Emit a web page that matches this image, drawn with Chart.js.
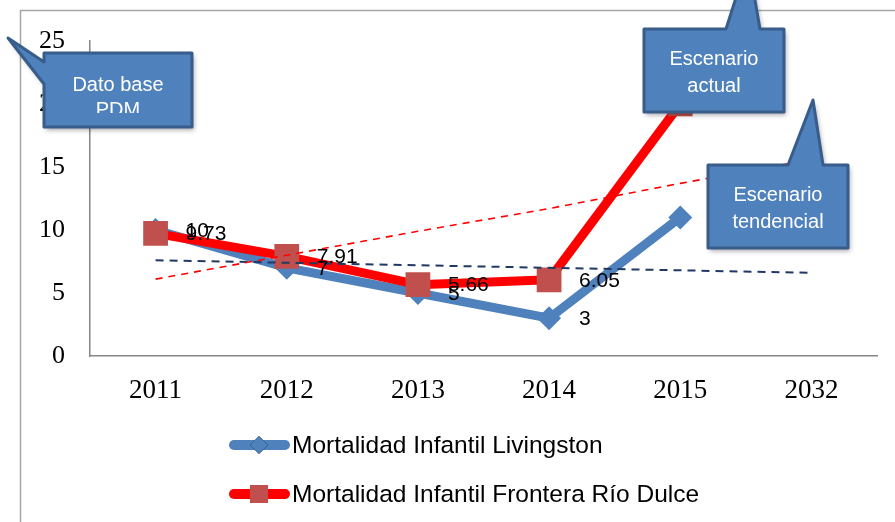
<!DOCTYPE html>
<html><head><meta charset="utf-8">
<script src="https://cdn.jsdelivr.net/npm/chart.js@4/dist/chart.umd.min.js"></script>
<style>html,body{margin:0;padding:0;background:#fff;overflow:hidden}canvas{display:block}</style>
</head><body>
<canvas id="c" width="895" height="522"></canvas>
<script>
// ---- data ----
const categories = ['2011', '2012', '2013', '2014', '2015', '2032'];
const livingston = [10, 7, 5, 3, 11, null];
const frontera = [9.73, 7.91, 5.66, 6.05, 20, null];
const trendLivingston = [7.6, 7.4, 7.2, 7.0, 6.8, 6.6];
const trendFrontera = [6.1, 8.0, 9.9, 11.7, 13.7, 15.6];
const yTicks = [0, 5, 10, 15, 20, 25];
const seriesNames = ['Mortalidad Infantil Livingston', 'Mortalidad Infantil Frontera Río Dulce'];
const calloutTexts = [['Dato base', 'PDM'], ['Escenario', 'actual'], ['Escenario', 'tendencial']];

const BLUE = '#4F81BD', RED = '#FF0000', SQ = '#C0504D';

function callout(ctx, pts, box, lines, lineGap, textTop, clipBottom) {
  ctx.save();
  ctx.beginPath();
  pts.forEach((p, i) => i ? ctx.lineTo(p[0], p[1]) : ctx.moveTo(p[0], p[1]));
  ctx.closePath();
  ctx.shadowColor = 'rgba(0,0,0,0.35)';
  ctx.shadowBlur = 5; ctx.shadowOffsetX = 2; ctx.shadowOffsetY = 3;
  ctx.fillStyle = BLUE;
  ctx.fill();
  ctx.shadowColor = 'transparent';
  ctx.lineJoin = 'round';
  ctx.lineWidth = 3;
  ctx.strokeStyle = '#385D8A';
  ctx.stroke();
  ctx.beginPath();
  ctx.rect(box[0], box[1], box[2] - box[0], clipBottom - box[1]);
  ctx.clip();
  ctx.fillStyle = '#fff';
  ctx.font = '20px "Liberation Sans", Arial, sans-serif';
  ctx.textAlign = 'center';
  ctx.textBaseline = 'alphabetic';
  const cx = (box[0] + box[2]) / 2;
  lines.forEach((t, i) => ctx.fillText(t, cx, textTop + i * lineGap));
  ctx.restore();
}

const overlay = {
  id: 'overlay',
  beforeDraw(chart) {
    const ctx = chart.ctx;
    ctx.save();
    ctx.fillStyle = '#fff';
    ctx.fillRect(0, 0, chart.width, chart.height);
    ctx.strokeStyle = '#A6A6A6';
    ctx.lineWidth = 1.5;
    ctx.beginPath();
    ctx.moveTo(20.5, 530); ctx.lineTo(20.5, 10.5); ctx.lineTo(900, 10.5);
    ctx.stroke();
    ctx.restore();
  },
  afterDraw(chart) {
    const ctx = chart.ctx;
    // data labels
    ctx.save();
    ctx.font = '21px "Liberation Sans", Arial, sans-serif';
    ctx.fillStyle = '#000';
    ctx.textAlign = 'left';
    ctx.textBaseline = 'middle';
    [[0, livingston], [1, frontera]].forEach(([di, arr]) => {
      const meta = chart.getDatasetMeta(di);
      arr.forEach((v, j) => {
        if (v === null) return;
        const el = meta.data[j];
        ctx.fillText(String(v), el.x + 30, el.y + 1);
      });
    });
    ctx.restore();

    // legend
    ctx.save();
    const rows = [[445, BLUE, 'rectRot', 9, BLUE], [494, RED, 'rect', 12.7, SQ]];
    rows.forEach(([y, lc, ps, r, pc], i) => {
      ctx.beginPath();
      ctx.lineCap = 'round';
      ctx.lineWidth = 10;
      ctx.strokeStyle = lc;
      ctx.moveTo(234, y); ctx.lineTo(285, y);
      ctx.stroke();
      Chart.helpers.drawPoint(ctx, {pointStyle: ps, radius: r, borderWidth: 0, rotation: 0}, 259, y);
      ctx.fillStyle = pc;
      ctx.fill();
      ctx.fillStyle = '#000';
      ctx.font = '24.5px "Liberation Sans", Arial, sans-serif';
      ctx.textAlign = 'left';
      ctx.textBaseline = 'middle';
      ctx.fillText(seriesNames[i], 292, y + 1);
    });
    ctx.restore();

    // callouts
    callout(ctx, [[44, 53], [192, 53], [192, 127], [44, 127], [44, 84], [8, 38], [44, 62]],
      [44, 53, 192, 127], calloutTexts[0], 25, 91, 113);
    callout(ctx, [[644, 29], [726, 29], [748, -40], [760, 29], [784, 29], [784, 112], [644, 112]],
      [644, 29, 784, 112], calloutTexts[1], 27, 65, 108);
    callout(ctx, [[708, 165], [788, 165], [813, 100], [823, 165], [848, 165], [848, 248], [708, 248]],
      [708, 165, 848, 248], calloutTexts[2], 27, 201, 244);
  }
};

new Chart(document.getElementById('c'), {
  type: 'line',
  data: {
    labels: categories,
    datasets: [
      {
        label: seriesNames[0], data: livingston, order: 3,
        borderColor: BLUE, borderWidth: 9, borderJoinStyle: 'round', borderCapStyle: 'round',
        pointStyle: 'rectRot', pointRadius: 12, pointBackgroundColor: BLUE, pointBorderWidth: 0,
        tension: 0, spanGaps: false
      },
      {
        label: seriesNames[1], data: frontera, order: 2,
        borderColor: RED, borderWidth: 9, borderJoinStyle: 'round', borderCapStyle: 'round',
        pointStyle: 'rect', pointRadius: 17.5, pointBackgroundColor: SQ, pointBorderWidth: 0,
        tension: 0
      },
      {
        label: 'trend1', data: trendLivingston, order: 1,
        borderColor: '#1F3864', borderWidth: 2, borderDash: [8, 6], pointRadius: 0, tension: 0
      },
      {
        label: 'trend2', data: trendFrontera, order: 0,
        borderColor: RED, borderWidth: 1.6, borderDash: [7, 6], pointRadius: 0, tension: 0
      }
    ]
  },
  options: {
    responsive: false,
    animation: false,
    layout: { padding: { left: 0, top: 41, right: 18, bottom: 116 } },
    plugins: { legend: { display: false }, tooltip: { enabled: false } },
    scales: {
      x: {
        type: 'category', offset: true,
        grid: { display: false, drawTicks: false },
        border: { display: true, color: '#868686', width: 1.5 },
        ticks: { color: '#000', font: { family: '"Liberation Serif", serif', size: 27 }, padding: 19, maxRotation: 0 },
        afterFit: s => { s.height = 50; }
      },
      y: {
        min: 0, max: 25,
        afterBuildTicks: s => { s.ticks = yTicks.map(v => ({ value: v })); },
        grid: { display: false, drawTicks: false },
        border: { display: true, color: '#868686', width: 1.5 },
        ticks: { color: '#000', font: { family: '"Liberation Serif", serif', size: 26 }, padding: 25 },
        afterFit: s => { s.width = 90; }
      }
    }
  },
  plugins: [overlay]
});
</script>
</body></html>
